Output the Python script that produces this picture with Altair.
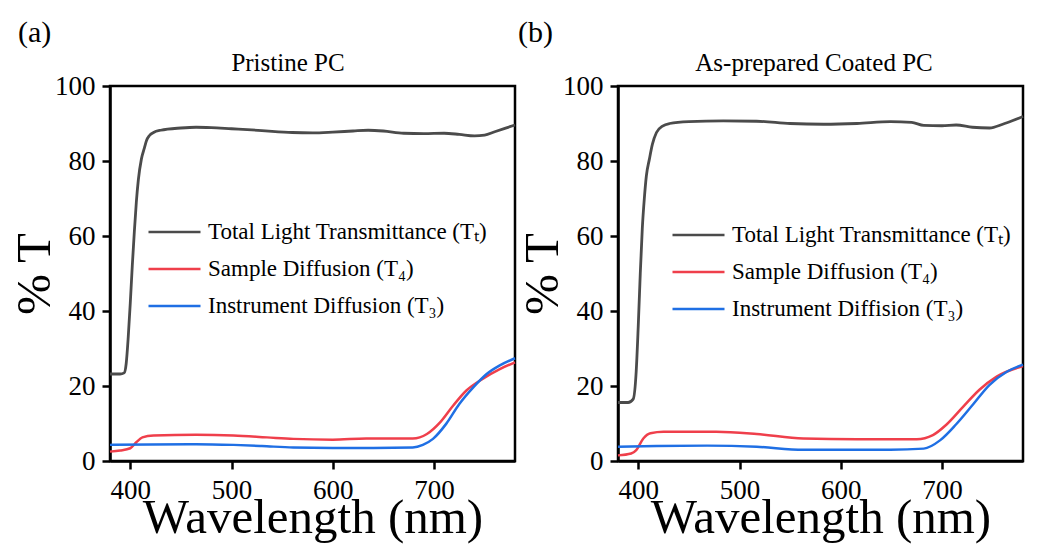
import altair as alt
import pandas as pd

FONT = "Liberation Serif"

# ---------- Panel (a): Pristine PC ----------
A_TT_WL = [380, 385, 390, 394, 396, 398, 400, 402, 404, 406, 408, 411, 414, 416, 419, 423, 430,
           450, 465, 480, 500, 520, 540, 560, 580, 600, 620, 635, 650, 670, 690, 710, 725,
           740, 750, 760, 770, 780]
A_TT = [23.2, 23.2, 23.2, 23.5, 26, 33, 42, 52, 61, 69, 75, 80.5, 83.5, 85.4, 86.8, 87.6, 88.2,
        88.8, 89.0, 88.9, 88.6, 88.3, 87.9, 87.6, 87.5, 87.7, 88.0, 88.2, 88.0, 87.4, 87.3, 87.4, 87.1,
        86.7, 86.9, 87.8, 88.7, 89.6]

A_T4_WL = [380, 390, 400, 406, 412, 423, 465, 502, 535, 561, 600, 633, 679, 693, 706, 719, 732,
           748, 765, 780]
A_T4 = [2.5, 2.8, 3.4, 5.0, 6.3, 6.8, 7.0, 6.8, 6.3, 5.9, 5.7, 6.0, 6.0, 7.2, 10.3, 14.8, 18.8,
        21.9, 24.5, 26.3]

A_T3_WL = [380, 420, 465, 502, 530, 561, 600, 640, 679, 689, 699, 712, 725, 739, 752, 765, 780]
A_T3 = [4.3, 4.4, 4.5, 4.3, 4.0, 3.6, 3.5, 3.5, 3.6, 4.3, 5.9, 9.9, 15.2, 19.7, 23.2, 25.5, 27.4]

# ---------- Panel (b): As-prepared Coated PC ----------
B_TT_WL = [380, 385, 390, 395, 398, 400, 402, 404, 406, 408, 411, 414, 418, 424, 431, 450, 484,
           517, 550, 583, 616, 649, 670, 682, 700, 714, 730, 747, 760, 770, 780]
B_TT = [15.6, 15.6, 15.6, 16.5, 24, 36, 50, 62, 70, 76, 80.5, 84.5, 87.6, 89.3, 90.0, 90.5, 90.7,
        90.6, 90.0, 89.8, 90.0, 90.5, 90.3, 89.5, 89.4, 89.6, 89.0, 88.8, 89.8, 90.8, 91.9]

B_T4_WL = [380, 393, 398, 405, 412, 425, 477, 517, 563, 616, 675, 691, 704, 721, 737, 754, 780]
B_T4 = [1.5, 2.0, 2.9, 6.0, 7.4, 7.8, 7.8, 7.2, 6.0, 5.8, 5.8, 6.9, 9.6, 14.5, 19.0, 22.5, 25.3]

B_T3_WL = [380, 418, 468, 517, 563, 600, 649, 682, 698, 714, 731, 747, 764, 780]
B_T3 = [3.8, 4.0, 4.1, 3.8, 3.0, 3.0, 3.0, 3.3, 5.5, 9.8, 15.2, 20.3, 23.8, 25.7]

SERIES_A = ["Total Light Transmittance (T\u209c)", "Sample Diffusion (T\u2084)",
            "Instrument Diffusion (T\u2083)"]
SERIES_B = ["Total Light Transmittance (T\u209c)", "Sample Diffusion (T\u2084)",
            "Instrument Diffision (T\u2083)"]
COLORS = ["#4b4b4b", "#ef3f4b", "#1f6fe4"]
LINE_WIDTHS = [2.8, 2.5, 2.5]
X_TICKS = [400, 500, 600, 700]
Y_TICKS = [0, 20, 40, 60, 80, 100]
PANEL_LABELS = ["(a)", "(b)"]
PANEL_TITLES = ["Pristine PC", "As-prepared Coated PC"]

W, H = 405, 375


def panel(curves, names, label, title, legend_x, legend_y, label_x, title_x):
    color_scale = alt.Scale(domain=names, range=COLORS)
    legend = alt.Legend(title=None, orient="none", legendX=legend_x, legendY=legend_y,
                        symbolType="stroke", symbolSize=2704, symbolStrokeWidth=2.5,
                        labelFont=FONT, labelFontSize=23, labelColor="black",
                        labelOffset=6, clipHeight=20, rowPadding=14, padding=0,
                        labelLimit=500)
    layers = []
    for (wl, vals), name, sw in zip(curves, names, LINE_WIDTHS):
        df = pd.DataFrame({"wavelength": wl, "T": vals, "series": name})
        layers.append(
            alt.Chart(df).mark_line(strokeWidth=sw, interpolate="monotone").encode(
                x=alt.X("wavelength:Q",
                        scale=alt.Scale(domain=[380, 780], nice=False, zero=False),
                        axis=alt.Axis(values=X_TICKS, title="Wavelength (nm)")),
                y=alt.Y("T:Q", scale=alt.Scale(domain=[0, 100], nice=False),
                        axis=alt.Axis(values=Y_TICKS, title="% T")),
                color=alt.Color("series:N", scale=color_scale, legend=legend),
            )
        )
    lab = alt.Chart(pd.DataFrame({"t": [label]})).mark_text(
        align="left", baseline="alphabetic", font=FONT, fontSize=30, color="black",
        x=label_x, y=-44).encode(text="t:N")
    ttl = alt.Chart(pd.DataFrame({"t": [title]})).mark_text(
        align="center", baseline="alphabetic", font=FONT, fontSize=25, color="black",
        x=title_x, y=-15).encode(text="t:N")
    return alt.layer(*layers, lab, ttl).properties(width=W, height=H)


pa = panel([(A_TT_WL, A_TT), (A_T4_WL, A_T4), (A_T3_WL, A_T3)], SERIES_A,
           PANEL_LABELS[0], PANEL_TITLES[0], 37, 136, -92, 178)
pb = panel([(B_TT_WL, B_TT), (B_T4_WL, B_T4), (B_T3_WL, B_T3)], SERIES_B,
           PANEL_LABELS[1], PANEL_TITLES[1], 53, 139, -100, 196)

chart = (
    alt.hconcat(pa, pb, spacing=103, bounds="flush")
    .resolve_scale(color="independent", x="independent", y="independent")
    .properties(padding={"left": 9, "top": 16, "right": 0, "bottom": 0},
                background="white")
    .configure_view(stroke="black", strokeWidth=2.5)
    .configure_axis(labelFont=FONT, labelFontSize=27, labelColor="black",
                    titleFont=FONT, titleFontSize=49, titleFontWeight="normal",
                    titleColor="black", domainColor="black", domainWidth=2.5,
                    tickColor="black", tickWidth=2.5, tickSize=8, grid=False)
    .configure_axisX(titleBaseline="alphabetic", titlePadding=29, labelPadding=8)
    .configure_axisY(titleBaseline="alphabetic", titlePadding=5, labelPadding=7)
)

chart.save("out.html", embed_options={"renderer": "svg", "actions": False})
